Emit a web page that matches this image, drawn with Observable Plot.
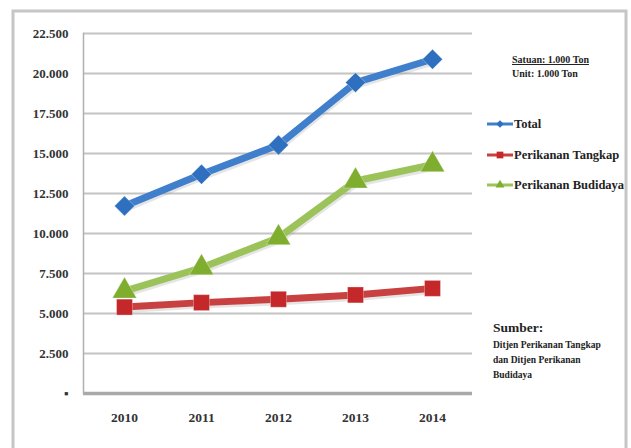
<!DOCTYPE html>
<html><head><meta charset="utf-8">
<script src="https://cdn.jsdelivr.net/npm/d3@7"></script>
<script src="https://cdn.jsdelivr.net/npm/@observablehq/plot@0.6"></script>
<style>
body{margin:0;background:#fff;}
#chart{position:relative;width:631px;height:448px;overflow:hidden;}
</style>
</head><body><div id="chart"></div>
<script>
const years = ["2010","2011","2012","2013","2014"];
const total = [11720, 13700, 15530, 19430, 20890];
const tangkap = [5400, 5680, 5890, 6160, 6570];
const budidaya = [6400, 7860, 9740, 13280, 14300];
const seriesNames = ["Total","Perikanan Tangkap","Perikanan Budidaya"];
const yTicks = [0,2500,5000,7500,10000,12500,15000,17500,20000,22500];
const satuan = "Satuan: 1.000 Ton";
const unit = "Unit: 1.000 Ton";
const sumberTitle = "Sumber:";
const sumberLines = ["Ditjen Perikanan Tangkap","dan Ditjen Perikanan","Budidaya"];

const data = [];
years.forEach((y,i)=>{
  data.push({year:y, series:seriesNames[0], value:total[i]});
  data.push({year:y, series:seriesNames[1], value:tangkap[i]});
  data.push({year:y, series:seriesNames[2], value:budidaya[i]});
});
const lineColor = {"Total":"#3f7fcc","Perikanan Tangkap":"#c8403f","Perikanan Budidaya":"#9cc35a"};
const markColor = {"Total":"#2f6fbf","Perikanan Tangkap":"#c4282a","Perikanan Budidaya":"#7fae2e"};
const markSym = {"Total":"diamond2","Perikanan Tangkap":"square","Perikanan Budidaya":"triangle"};
const markR = {"Total":9,"Perikanan Tangkap":9,"Perikanan Budidaya":9};
const font = "'Liberation Serif','DejaVu Serif',serif";
const fmt = d => d === 0 ? "▪" : d3.format(",")(d).replace(/,/g,".");

const marks = [
  Plot.ruleY(yTicks.filter(d=>d>0), {stroke:"#c4c4c4", strokeWidth:2}),
  Plot.ruleY([0], {stroke:"#a8a8a8", strokeWidth:3.5}),
  Plot.frame({anchor:"left", stroke:"#b0b0b0", strokeWidth:1.5}),
  Plot.axisY({ticks:yTicks, tickSize:0, tickPadding:15, tickFormat:fmt, fontSize:13, fontWeight:"bold", fill:"#333"}),
  Plot.axisX({tickSize:0, tickPadding:19, fontSize:13.5, fontWeight:"bold", fill:"#333"})
];
for (const s of seriesNames) {
  const d = data.filter(r=>r.series===s);
  marks.push(Plot.line(d, {x:"year", y:"value", stroke:"#999", strokeWidth:6, strokeOpacity:0.25, dy:3, dx:1}));
  marks.push(Plot.line(d, {x:"year", y:"value", stroke:lineColor[s], strokeWidth:7, strokeLinejoin:"round"}));
  marks.push(Plot.dot(d, {x:"year", y:"value", symbol:markSym[s], r:markR[s], fill:markColor[s], stroke:"#fff", strokeOpacity:0.3, strokeWidth:1}));
}

const chart = Plot.plot({
  width:631, height:448,
  marginLeft:83, marginRight:159, marginTop:33, marginBottom:55,
  style:{fontFamily:font, background:"#fff", color:"#333"},
  x:{type:"point", domain:years, label:null, padding:0.5},
  y:{domain:[0,22500], label:null},
  marks
});
document.getElementById("chart").appendChild(chart);

const svg = d3.select(chart);
svg.insert("rect", ":first-child").attr("x",13).attr("y",11).attr("width",613).attr("height",450)
  .attr("fill","none").attr("stroke","#c6c6c6").attr("stroke-width",3);

const g = svg.append("g").attr("font-family",font).attr("fill","#222").attr("text-anchor","start");
g.append("text").attr("x",512).attr("y",63).attr("font-size",10).attr("font-weight","bold")
  .attr("text-decoration","underline").text(satuan);
g.append("text").attr("x",512).attr("y",77).attr("font-size",10).attr("font-weight","bold").text(unit);

const legY = [124,155,185];
seriesNames.forEach((s,i)=>{
  const y = legY[i];
  g.append("line").attr("x1",487).attr("x2",513).attr("y1",y).attr("y2",y)
    .attr("stroke",lineColor[s]).attr("stroke-width",3);
  const sym = d3.symbol().type(i===0?d3.symbolDiamond2:(i===1?d3.symbolSquare:d3.symbolTriangle)).size(i===1?45:35);
  g.append("path").attr("d",sym()).attr("transform",`translate(500,${y})`).attr("fill",markColor[s]);
  g.append("text").attr("x",514).attr("y",y).attr("dy","0.35em").attr("font-size",12.5).attr("font-weight","bold").text(s);
});

g.append("text").attr("x",493).attr("y",332).attr("font-size",13.5).attr("font-weight","bold").text(sumberTitle);
sumberLines.forEach((t,i)=>{
  g.append("text").attr("x",493).attr("y",348+i*15).attr("font-size",9.5).attr("font-weight","bold").text(t);
});
</script></body></html>
